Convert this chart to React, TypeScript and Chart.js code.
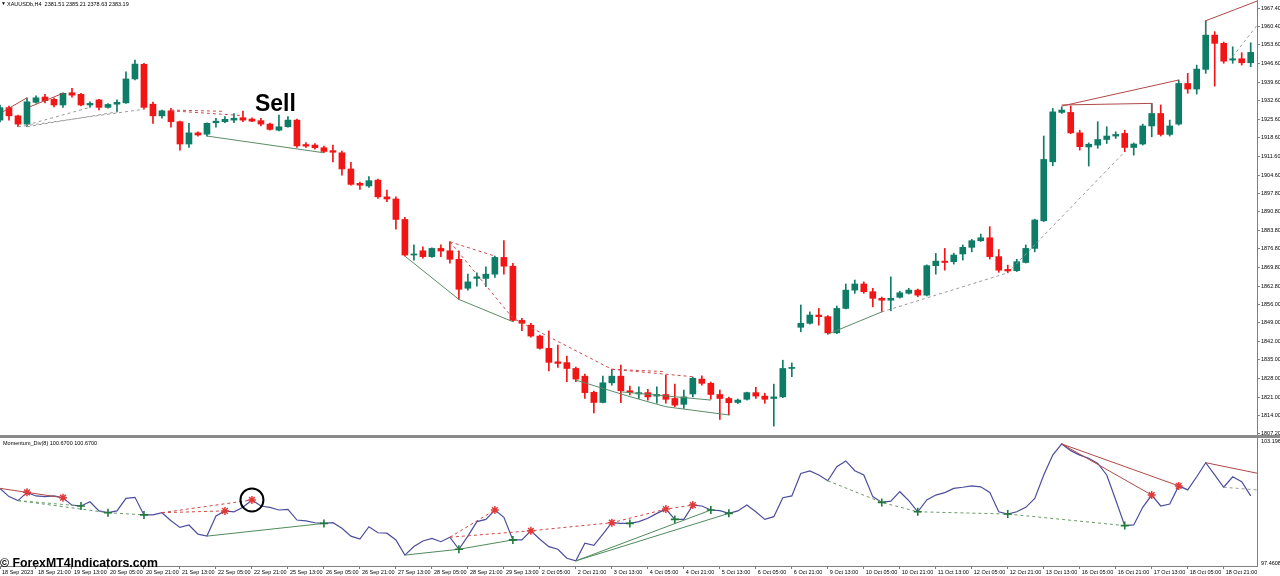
import React, { useEffect, useRef } from 'react';
import { Chart, registerables } from 'chart.js';

Chart.register(...registerables);

// ---------- data ----------
const openP = [
  1925.3, 1930.0, 1926.9, 1923.8, 1932.0, 1934.0, 1933.1, 1931.0, 1935.6, 1935.0,
  1931.0, 1932.9, 1930.1, 1931.3, 1931.8, 1940.8, 1946.3, 1931.3, 1926.9, 1928.8,
  1924.7, 1916.3, 1920.5, 1920.0, 1924.3, 1924.7, 1925.3, 1926.2, 1925.7, 1925.1,
  1923.8, 1921.5, 1922.8, 1925.3, 1916.1, 1915.9, 1914.9, 1913.8, 1913.0, 1906.9,
  1901.5, 1900.5, 1902.7, 1896.4, 1895.6, 1887.9, 1874.5, 1876.1, 1873.9, 1877.0,
  1876.1, 1872.9, 1862.0, 1865.7, 1865.7, 1867.3, 1873.6, 1870.3, 1849.9, 1848.1,
  1844.0, 1839.4, 1834.3, 1834.0, 1831.8, 1828.9, 1822.8, 1819.0, 1826.4, 1828.9,
  1823.4, 1822.2, 1822.7, 1821.4, 1822.0, 1820.5, 1818.3, 1822.2, 1827.8, 1826.2,
  1822.0, 1820.5, 1819.0, 1820.2, 1822.7, 1821.4, 1820.5, 1821.1, 1831.8, 1847.3,
  1848.8, 1851.9, 1851.3, 1845.2, 1854.4, 1861.3, 1863.6, 1860.7, 1858.2, 1857.5,
  1858.6, 1860.1, 1861.3, 1859.4, 1870.5, 1872.2, 1872.0, 1874.9, 1877.4, 1879.9,
  1881.0, 1873.9, 1869.1, 1868.6, 1871.7, 1877.0, 1887.4, 1909.6, 1928.2, 1928.2,
  1920.5, 1915.2, 1915.9, 1918.0, 1919.3, 1920.3, 1915.0, 1916.3, 1923.1, 1927.8,
  1919.9, 1923.8, 1939.1, 1937.0, 1944.4, 1957.3, 1954.2, 1947.9, 1948.4, 1946.9,
];
const highP = [
  1931.0, 1930.6, 1927.2, 1933.7, 1934.4, 1935.0, 1933.6, 1935.6, 1937.3, 1935.4,
  1932.2, 1933.1, 1931.5, 1932.9, 1943.5, 1947.9, 1946.7, 1932.1, 1929.1, 1929.7,
  1924.9, 1924.1, 1920.9, 1924.3, 1926.0, 1926.6, 1927.8, 1928.7, 1926.2, 1926.0,
  1924.2, 1927.2, 1926.6, 1925.7, 1916.8, 1916.5, 1915.5, 1915.9, 1913.6, 1909.4,
  1902.0, 1904.0, 1903.1, 1899.0, 1896.4, 1888.7, 1878.3, 1877.6, 1877.2, 1878.3,
  1879.5, 1876.1, 1867.3, 1867.8, 1870.1, 1874.1, 1879.9, 1871.4, 1850.7, 1848.8,
  1844.4, 1846.0, 1840.6, 1836.5, 1832.3, 1829.7, 1823.3, 1828.9, 1831.5, 1833.1,
  1825.2, 1824.9, 1823.9, 1824.9, 1829.3, 1825.9, 1823.7, 1828.6, 1829.0, 1826.7,
  1823.7, 1821.0, 1820.3, 1822.9, 1824.7, 1822.5, 1825.9, 1834.9, 1833.9, 1855.7,
  1853.1, 1854.4, 1851.7, 1855.3, 1863.6, 1865.1, 1864.4, 1862.0, 1858.7, 1866.3,
  1860.9, 1862.0, 1861.7, 1870.8, 1875.1, 1877.0, 1875.2, 1878.3, 1880.4, 1882.4,
  1885.2, 1876.6, 1870.7, 1872.9, 1878.3, 1888.0, 1919.3, 1929.7, 1930.3, 1930.6,
  1921.5, 1916.7, 1924.7, 1922.8, 1920.9, 1921.5, 1916.7, 1923.8, 1931.6, 1931.0,
  1925.3, 1940.4, 1942.9, 1946.0, 1962.7, 1958.6, 1954.7, 1952.9, 1950.7, 1954.4,
];
const lowP = [
  1924.6, 1925.3, 1922.8, 1922.8, 1931.7, 1931.8, 1930.3, 1930.1, 1933.9, 1930.6,
  1930.1, 1929.1, 1929.8, 1928.4, 1931.6, 1940.4, 1929.4, 1924.1, 1926.0, 1922.6,
  1914.0, 1915.0, 1919.3, 1919.3, 1922.6, 1924.3, 1924.3, 1924.7, 1924.7, 1923.1,
  1921.5, 1921.2, 1922.6, 1915.0, 1915.0, 1914.4, 1913.0, 1909.6, 1904.6, 1900.8,
  1899.2, 1900.0, 1895.8, 1894.6, 1884.2, 1874.1, 1872.6, 1873.3, 1873.6, 1873.9,
  1871.4, 1857.8, 1861.3, 1862.8, 1862.6, 1866.1, 1867.3, 1849.4, 1846.0, 1843.6,
  1839.1, 1830.9, 1832.2, 1826.8, 1826.8, 1820.5, 1815.1, 1818.8, 1825.5, 1818.9,
  1821.8, 1820.5, 1819.9, 1818.7, 1818.7, 1817.4, 1816.8, 1821.1, 1825.5, 1820.2,
  1812.6, 1814.3, 1818.6, 1819.9, 1820.5, 1818.7, 1810.1, 1820.8, 1828.7, 1845.6,
  1848.5, 1848.1, 1844.7, 1844.9, 1854.2, 1860.1, 1860.1, 1855.0, 1853.1, 1853.5,
  1858.3, 1859.8, 1858.8, 1859.1, 1867.3, 1868.8, 1871.1, 1872.6, 1875.7, 1879.6,
  1873.0, 1868.0, 1867.8, 1868.3, 1871.5, 1875.7, 1887.1, 1908.1, 1927.8, 1920.2,
  1914.0, 1908.0, 1914.7, 1916.5, 1918.4, 1913.4, 1912.1, 1915.9, 1919.0, 1919.3,
  1919.3, 1923.4, 1935.4, 1935.1, 1942.9, 1938.1, 1946.7, 1946.7, 1946.0, 1945.4,
];
const closeP = [
  1930.0, 1926.9, 1923.8, 1932.2, 1933.7, 1932.6, 1931.0, 1935.4, 1934.7, 1931.0,
  1931.6, 1930.1, 1931.2, 1932.0, 1940.8, 1946.4, 1930.1, 1926.9, 1928.8, 1924.7,
  1916.3, 1920.5, 1919.7, 1924.1, 1924.9, 1925.6, 1926.0, 1925.3, 1924.9, 1923.8,
  1921.8, 1922.8, 1925.3, 1915.6, 1915.5, 1914.9, 1913.5, 1913.2, 1906.9, 1901.1,
  1900.8, 1902.5, 1896.4, 1895.6, 1887.9, 1874.5, 1874.9, 1873.9, 1877.0, 1876.0,
  1872.9, 1861.6, 1864.4, 1866.3, 1867.3, 1873.6, 1870.3, 1849.9, 1848.8, 1844.0,
  1839.4, 1834.1, 1833.7, 1831.8, 1827.8, 1822.7, 1819.0, 1826.4, 1828.9, 1823.4,
  1822.7, 1822.7, 1821.1, 1822.0, 1820.2, 1818.0, 1821.1, 1828.1, 1826.2, 1822.0,
  1820.5, 1818.9, 1819.9, 1822.7, 1821.4, 1820.2, 1821.1, 1831.8, 1832.2, 1848.8,
  1851.9, 1851.3, 1845.2, 1854.4, 1861.3, 1863.6, 1860.7, 1858.2, 1857.5, 1858.2,
  1860.3, 1861.3, 1859.4, 1870.5, 1872.2, 1871.7, 1874.5, 1877.4, 1879.9, 1881.0,
  1873.9, 1868.8, 1868.5, 1872.0, 1877.0, 1887.7, 1910.5, 1928.4, 1929.1, 1920.5,
  1915.3, 1916.2, 1918.0, 1919.3, 1919.9, 1915.0, 1916.3, 1923.1, 1927.8, 1919.9,
  1923.1, 1939.1, 1937.0, 1944.5, 1957.3, 1954.2, 1947.5, 1948.4, 1946.9, 1950.8,
];
const momentum = [
  100.94, 100.57, 100.39, 100.76, 100.60, 100.57, 100.60, 100.52, 100.19, 100.15,
  100.34, 99.93, 99.85, 99.93, 100.49, 100.54, 99.75, 99.75, 99.85, 99.49,
  99.19, 99.30, 98.89, 98.80, 99.70, 99.93, 99.89, 100.09, 100.42, 100.15,
  100.09, 99.97, 100.00, 99.52, 99.48, 99.40, 99.37, 99.40, 99.15, 98.80,
  98.67, 99.22, 98.95, 98.93, 98.63, 97.95, 98.33, 98.58, 98.70, 98.55,
  98.75, 98.21, 98.80, 99.45, 99.55, 99.97, 99.64, 98.63, 98.63, 99.04,
  98.66, 98.33, 98.21, 97.81, 97.69, 98.48, 98.39, 98.89, 99.40, 99.37,
  99.37, 99.45, 99.60, 99.82, 100.01, 99.55, 99.55, 100.19, 100.15, 99.97,
  99.94, 99.82, 99.93, 100.19, 99.89, 99.55, 99.67, 100.52, 100.60, 101.61,
  101.72, 101.54, 101.28, 101.91, 102.17, 101.73, 101.54, 100.57, 100.31, 100.37,
  100.79, 100.39, 99.89, 100.42, 100.64, 100.75, 100.94, 100.99, 101.05, 101.01,
  100.76, 99.89, 99.79, 99.89, 100.09, 100.49, 101.54, 102.43, 102.93, 102.63,
  102.43, 102.29, 102.06, 101.54, 100.42, 99.27, 99.30, 100.09, 100.64, 100.15,
  100.24, 101.05, 100.87, 101.46, 102.09, 101.54, 100.99, 101.46, 101.24, 100.60,
];

const priceTickLabels = [
  '1967.40', '1960.40', '1953.60', '1946.60', '1939.60', '1932.60', '1925.60', '1918.60',
  '1911.60', '1904.60', '1897.80', '1890.80', '1883.80', '1876.80', '1869.80', '1862.80',
  '1856.00', '1849.00', '1842.00', '1835.00', '1828.00', '1821.00', '1814.00', '1807.20',
];
const timeLabels = [
  '18 Sep 2023', '18 Sep 21:00', '19 Sep 13:00', '20 Sep 05:00', '20 Sep 21:00', '21 Sep 13:00',
  '22 Sep 05:00', '22 Sep 21:00', '25 Sep 13:00', '26 Sep 05:00', '26 Sep 21:00', '27 Sep 13:00',
  '28 Sep 05:00', '28 Sep 21:00', '29 Sep 13:00', '2 Oct 05:00', '2 Oct 21:00', '3 Oct 13:00',
  '4 Oct 05:00', '4 Oct 21:00', '5 Oct 13:00', '6 Oct 05:00', '6 Oct 21:00', '9 Oct 13:00',
  '10 Oct 05:00', '10 Oct 21:00', '11 Oct 13:00', '12 Oct 05:00', '12 Oct 21:00', '13 Oct 13:00',
  '16 Oct 05:00', '16 Oct 21:00', '17 Oct 13:00', '18 Oct 05:00', '18 Oct 21:00',
];
const barsPerTimeLabel = 4;

const headerText = 'XAUUSDb,H4  2381.51 2385.21 2378.63 2383.19';
const indicatorTitle = 'Momentum_Div(8) 100.6700 100.6700';
const watermarkText = '\u00A9 ForexMT4Indicators.com';
const sellText = 'Sell';
const sellAnchor = [30.6, 1931.0];

const priceMin = 1806.75;
const priceMax = 1970.52;
const momMin = 97.4608;
const momMax = 103.1964;
const barMin = 0;
const barMax = 139.7;

// divergence lines on the price pane: [bar, price]
const priceRedSolid = [
  [[0.3, 1928.4], [3, 1933.7]],
  [[3.3, 1930.3], [7, 1935.4]],
  [[118, 1930.6], [131, 1940.4]],
  [[118, 1931.0], [128, 1931.6], [128, 1927.8]],
  [[134, 1957.3], [134, 1962.7], [140, 1970.5]],
];
const priceRedDashed = [
  [[19, 1929.1], [25, 1928.6]],
  [[19, 1928.8], [27, 1927.0]],
  [[50, 1879.5], [55, 1874.1]],
  [[50, 1879.5], [57, 1850.7], [68, 1831.5]],
  [[68, 1831.5], [74, 1830.6]],
  [[68, 1831.5], [77, 1828.7]],
];
const priceGreenSolid = [
  [[23, 1919.3], [36, 1913.0]],
  [[45, 1874.1], [51, 1857.8], [57, 1849.4]],
  [[64, 1827.4], [70, 1821.2], [74, 1817.4], [81, 1814.3]],
  [[69, 1823.0], [79, 1819.9]],
  [[92, 1844.7], [98, 1853.1]],
];
const priceGreyDashed = [
  [[2, 1922.8], [16, 1929.4]],
  [[3, 1922.8], [13, 1928.4]],
  [[3, 1923.5], [10, 1930.1]],
  [[98, 1853.1], [112, 1867.8]],
  [[112, 1867.8], [125, 1913.4]],
  [[137, 1949.2], [140, 1962.3]],
];

// divergence lines on the momentum pane: bar index (value from momentum) or [bar, value]
const momRedSolid = [[0, 3, 7], [118, 128], [118, 131], [134, [139.7, 101.62]]];
const momRedDashed = [[18, 25], [18, 28], [50, 55], [50, 59, 68, 74, 77]];
const momGreenSolid = [[23, 36], [45, 51, 57], [64, 79], [64, 81]];
const momGreenDashed = [[2, 9], [2, 12], [12, 16], [92, 98, 102, 112, 125]];
const momGreyDashed = [[136, [139.7, 100.87]]];
const momRedMarks = [3, 7, 25, 28, 55, 59, 68, 74, 77, 128, 131];
const momGreenMarks = [9, 12, 16, 36, 51, 57, 70, 75, 79, 81, 98, 102, 112, 125];
const circledBar = 28;

// ---------- styles ----------
const UP = '#0e7c66';
const DOWN = '#f21515';
const FONT = '"Liberation Sans", Arial, sans-serif';
const AXIS = '#7f7f7f';

function lineDs(points, color, dashed, width = 1) {
  return {
    type: 'line',
    data: points.map(([x, y]) => ({ x, y })),
    borderColor: color,
    borderWidth: width,
    borderDash: dashed ? [3, 3] : [],
    pointRadius: 0,
    tension: 0,
    fill: false,
    order: -1,
  };
}
const momPts = (arr) => arr.map((p) => (Array.isArray(p) ? p : [p, momentum[p]]));

export default function App() {
  const topRef = useRef(null);
  const botRef = useRef(null);

  useEffect(() => {
    const n = openP.length;
    const idx = Array.from({ length: n }, (_, i) => i);
    const colors = idx.map((i) => (closeP[i] >= openP[i] ? UP : DOWN));

    const topText = {
      id: 'topText',
      afterDraw(chart) {
        const { ctx, scales } = chart;
        ctx.save();
        ctx.fillStyle = '#000';
        ctx.textBaseline = 'middle';
        ctx.font = `5px ${FONT}`;
        ctx.fillText('\u25BC', 1, 4);
        ctx.font = `5.5px ${FONT}`;
        ctx.fillText(headerText, 7, 4);
        ctx.font = `bold 23px ${FONT}`;
        ctx.textAlign = 'center';
        ctx.fillText(sellText, scales.x.getPixelForValue(sellAnchor[0]), scales.y.getPixelForValue(sellAnchor[1]));
        ctx.restore();
      },
    };

    const top = new Chart(topRef.current, {
      type: 'bar',
      data: {
        datasets: [
          ...priceRedSolid.map((p) => lineDs(p, '#b04848', false)),
          ...priceRedDashed.map((p) => lineDs(p, '#cc4a4a', true)),
          ...priceGreenSolid.map((p) => lineDs(p, '#5b8b66', false)),
          ...priceGreyDashed.map((p) => lineDs(p, '#9a9a9a', true)),
          {
            type: 'bar',
            data: idx.map((i) => ({ x: i, y: [openP[i], closeP[i]] })),
            backgroundColor: colors,
            borderWidth: 0,
            barThickness: 6,
            minBarLength: 1,
            grouped: false,
            order: 1,
          },
          {
            type: 'bar',
            data: idx.map((i) => ({ x: i, y: [lowP[i], highP[i]] })),
            backgroundColor: colors,
            borderWidth: 0,
            barThickness: 1,
            minBarLength: 1,
            grouped: false,
            order: 2,
          },
        ],
      },
      options: {
        animation: false,
        responsive: false,
        maintainAspectRatio: false,
        events: [],
        layout: { padding: 0, autoPadding: false },
        plugins: { legend: { display: false }, tooltip: { enabled: false } },
        scales: {
          x: { type: 'linear', min: barMin, max: barMax, display: false, offset: false, grid: { offset: false } },
          y: {
            type: 'linear',
            position: 'right',
            min: priceMin,
            max: priceMax,
            beginAtZero: false,
            afterBuildTicks: (s) => {
              s.ticks = priceTickLabels.map((t) => ({ value: parseFloat(t) }));
            },
            afterFit: (s) => {
              s.width = 23;
              s.paddingTop = 0;
              s.paddingBottom = 0;
            },
            ticks: {
              callback: (v, i) => priceTickLabels[i],
              font: { size: 5.5, family: FONT },
              color: '#000',
              padding: 1,
            },
            grid: { drawOnChartArea: false, tickLength: 3, color: AXIS },
            border: { color: AXIS, width: 1 },
          },
        },
      },
      plugins: [topText],
    });

    const botText = {
      id: 'botText',
      afterDraw(chart) {
        const { ctx, scales } = chart;
        ctx.save();
        ctx.fillStyle = '#000';
        ctx.textBaseline = 'middle';
        ctx.font = `5.5px ${FONT}`;
        ctx.fillText(indicatorTitle, 3, 5);
        ctx.fillText(momMax.toFixed(4), 1261, scales.y.getPixelForValue(momMax) + 3);
        ctx.fillText(momMin.toFixed(4), 1261, scales.y.getPixelForValue(momMin) - 3);
        ctx.font = `bold 12.3px ${FONT}`;
        ctx.textBaseline = 'alphabetic';
        ctx.fillText(watermarkText, 0, 128.5);
        ctx.restore();
      },
    };

    const bot = new Chart(botRef.current, {
      type: 'line',
      data: {
        datasets: [
          {
            type: 'line',
            data: circledBar !== null ? [{ x: circledBar, y: momentum[circledBar] }] : [],
            showLine: false,
            pointStyle: 'circle',
            pointRadius: 11.5,
            pointBorderWidth: 2,
            pointBorderColor: '#000',
            pointBackgroundColor: 'rgba(0,0,0,0)',
            order: -3,
          },
          {
            type: 'line',
            data: momRedMarks.map((i) => ({ x: i, y: momentum[i] })),
            showLine: false,
            pointStyle: 'star',
            pointRadius: 4,
            pointBorderWidth: 1.5,
            pointBorderColor: '#e03a3a',
            order: -2,
          },
          {
            type: 'line',
            data: momGreenMarks.map((i) => ({ x: i, y: momentum[i] })),
            showLine: false,
            pointStyle: 'cross',
            pointRadius: 4,
            pointBorderWidth: 1.6,
            pointBorderColor: '#1f7a3c',
            order: -2,
          },
          ...momRedSolid.map((p) => lineDs(momPts(p), '#b04848', false)),
          ...momRedDashed.map((p) => lineDs(momPts(p), '#d04848', true)),
          ...momGreenSolid.map((p) => lineDs(momPts(p), '#4f8a5c', false)),
          ...momGreenDashed.map((p) => lineDs(momPts(p), '#6a9a6a', true)),
          ...momGreyDashed.map((p) => lineDs(momPts(p), '#9a9a9a', true)),
          {
            type: 'line',
            data: momentum.map((v, i) => ({ x: i, y: v })),
            borderColor: '#4c4d9c',
            borderWidth: 1.2,
            pointRadius: 0,
            tension: 0,
            order: 0,
          },
        ],
      },
      options: {
        animation: false,
        responsive: false,
        maintainAspectRatio: false,
        events: [],
        layout: { padding: 0, autoPadding: false },
        plugins: { legend: { display: false }, tooltip: { enabled: false } },
        scales: {
          x: {
            type: 'linear',
            min: barMin,
            max: barMax,
            position: 'bottom',
            offset: false,
            afterBuildTicks: (s) => {
              s.ticks = timeLabels.map((_, k) => ({ value: k * barsPerTimeLabel }));
            },
            afterFit: (s) => {
              s.height = 10;
              s.paddingLeft = 0;
              s.paddingRight = 0;
            },
            ticks: {
              callback: (v, i) => timeLabels[i],
              align: 'start',
              labelOffset: 2,
              maxRotation: 0,
              minRotation: 0,
              autoSkip: false,
              padding: 0,
              font: { size: 5.5, family: FONT },
              color: '#000',
            },
            grid: { drawOnChartArea: false, tickLength: 3, color: AXIS },
            border: { color: AXIS, width: 1 },
          },
          y: {
            type: 'linear',
            position: 'right',
            min: momMin,
            max: momMax,
            beginAtZero: false,
            afterFit: (s) => {
              s.width = 23;
              s.paddingTop = 0;
              s.paddingBottom = 0;
            },
            ticks: { display: false },
            grid: { display: false },
            border: { color: AXIS, width: 1 },
          },
        },
      },
      plugins: [botText],
    });

    return () => {
      top.destroy();
      bot.destroy();
    };
  }, []);

  return (
    <div style={{ position: 'fixed', left: 0, top: 0, width: 1280, height: 576, background: '#fff', overflow: 'hidden' }}>
      <canvas ref={topRef} width={1280} height={435} style={{ position: 'absolute', left: 0, top: 0, width: 1280, height: 435, display: 'block' }} />
      <div style={{ position: 'absolute', left: 0, top: 435, width: 1280, height: 3, background: '#8a8a8a' }} />
      <canvas ref={botRef} width={1280} height={138} style={{ position: 'absolute', left: 0, top: 438, width: 1280, height: 138, display: 'block' }} />
    </div>
  );
}
